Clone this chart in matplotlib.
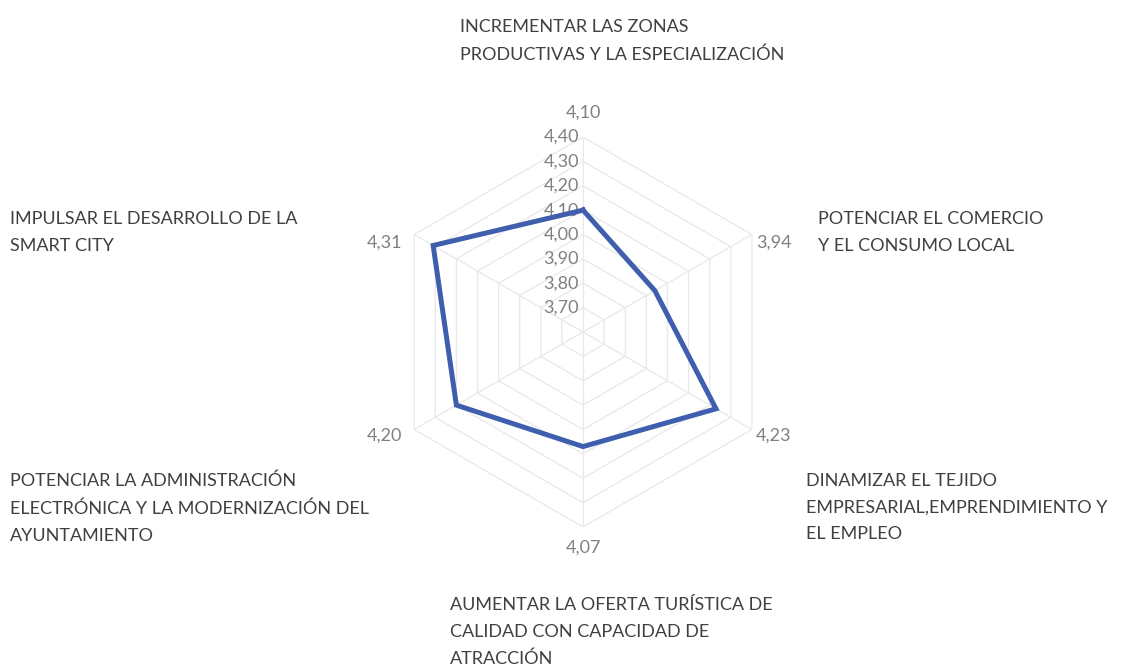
import numpy as np
import matplotlib
matplotlib.use('Agg')
from matplotlib import pyplot as plt

# axes, clockwise from the top
categories = [
    'INCREMENTAR LAS ZONAS\nPRODUCTIVAS Y LA ESPECIALIZACIÓN',
    'POTENCIAR EL COMERCIO\nY EL CONSUMO LOCAL',
    'DINAMIZAR EL TEJIDO\nEMPRESARIAL,EMPRENDIMIENTO Y\nEL EMPLEO',
    'AUMENTAR LA OFERTA TURÍSTICA DE\nCALIDAD CON CAPACIDAD DE\nATRACCIÓN',
    'POTENCIAR LA ADMINISTRACIÓN\nELECTRÓNICA Y LA MODERNIZACIÓN DEL\nAYUNTAMIENTO',
    'IMPULSAR EL DESARROLLO DE LA\nSMART CITY',
]
values = [4.10, 3.94, 4.23, 4.07, 4.20, 4.31]
ring_levels = [3.70, 3.80, 3.90, 4.00, 4.10, 4.20, 4.30, 4.40]
r_min, r_max = 3.60, 4.40

def fmt(v):
    return '{:.2f}'.format(v).replace('.', ',')

n = len(values)
angles = np.arange(n) * 2 * np.pi / n
closed = np.append(angles, angles[0])

fig = plt.figure(figsize=(11.25, 6.71), dpi=100)
ax = fig.add_axes([0.3449, 0.2146, 0.3467, 0.5812], projection='polar')
ax.set_theta_zero_location('N')
ax.set_theta_direction(-1)
ax.set_ylim(r_min, r_max)
ax.grid(False)
ax.spines['polar'].set_visible(False)
ax.set_xticks([])
ax.set_yticks([])
ax.patch.set_alpha(0)

grid_col = '#e8e8e8'
# hexagonal rings and spokes
for lv in ring_levels:
    ax.plot(closed, [lv] * (n + 1), color=grid_col, lw=0.9, zorder=1)
for a in angles:
    ax.plot([a, a], [r_min, r_max], color=grid_col, lw=0.9, zorder=1)

num_font = dict(fontsize=13, color='#808080', family=['Lato', 'DejaVu Sans'])

# scale labels up the vertical spoke
for lv in ring_levels:
    ax.annotate(fmt(lv), (0, lv), xytext=(-4, 0), textcoords='offset pixels',
                ha='right', va='center', **num_font)

# series
ax.plot(closed, values + values[:1], color='#3F5FAE', lw=3.6, zorder=3,
        solid_joinstyle='miter')

# value labels outside the outer ring
offsets = [((0, 24), 'center'), ((4, -8), 'left'), ((4, -6), 'left'),
           ((0, -21), 'center'), ((-12, -6), 'right'), ((-12, -8), 'right')]
for a, v, (off, ha) in zip(angles, values, offsets):
    ax.annotate(fmt(v), (a, r_max), xytext=off, textcoords='offset pixels',
                ha=ha, va='center', annotation_clip=False, **num_font)

# category names
W, H = 1125.0, 671.0
label_pos = [(460, 19), (818, 211), (806, 473), (450, 597), (10, 473), (10, 211)]
for txt, (x, y) in zip(categories, label_pos):
    fig.text(x / W, 1 - y / H, txt, ha='left', va='top', fontsize=13,
             color='#404040', family=['Lato', 'DejaVu Sans'],
             linespacing=1.82)

fig.savefig('out.png', dpi=100, facecolor='white')
